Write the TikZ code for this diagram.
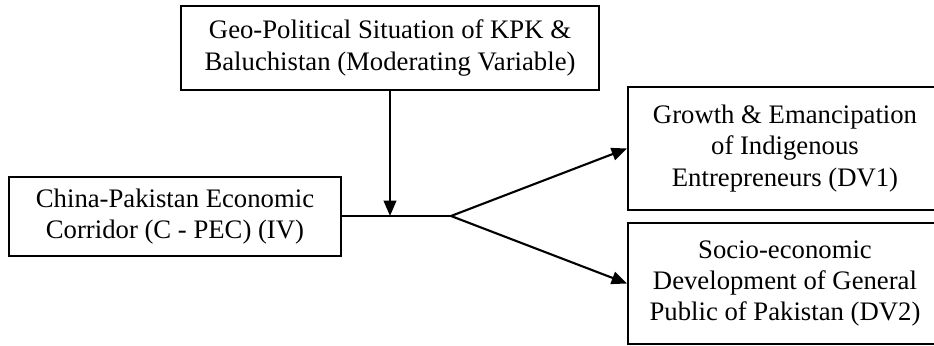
\documentclass[tikz,border=0pt]{standalone}
\usepackage{fontspec}
\setmainfont{Liberation Serif}
\usetikzlibrary{arrows.meta}

\begin{document}
\begin{tikzpicture}[
    varbox/.style={draw, line width=1.3pt, align=center, inner sep=0pt,
        font=\fontsize{19}{22.2}\selectfont},
    arr/.style={line width=1.5pt, -{Triangle[length=11pt, width=9pt]}}
  ]
            \useasboundingbox (0,0) rectangle (23.35,8.625);
            % Boxes
            \node[varbox, minimum width=10.45cm, minimum height=2.1cm] (geo) at (9.75, 7.425)
                {Geo-Political Situation of KPK \&\\Baluchistan (Moderating Variable)};
            \node[varbox, minimum width=8.3cm, minimum height=1.975cm] (cpec) at (4.375, 3.2125)
                {China-Pakistan Economic\\Corridor (C - PEC) (IV)};
            \node[varbox, minimum width=7.85cm, minimum height=3.075cm] (growth) at (19.625, 4.9125)
                {Growth \& Emancipation\\of Indigenous\\Entrepreneurs (DV1)};
            \node[varbox, minimum width=7.85cm, minimum height=3.025cm] (socio) at (19.625, 1.5375)
                {Socio-economic\\Development of General\\Public of Pakistan (DV2)};
            \coordinate (split) at (11.275, 3.225);
            % Connectors
            \draw[line width=0.9pt] (cpec.east |- split) -- (split);
            \draw[arr] (geo.south) -- (geo.south |- split);
            \draw[arr] (split) -- (growth.west);
            \draw[arr] (split) -- (socio.west);
        \end{tikzpicture}
\end{document}
